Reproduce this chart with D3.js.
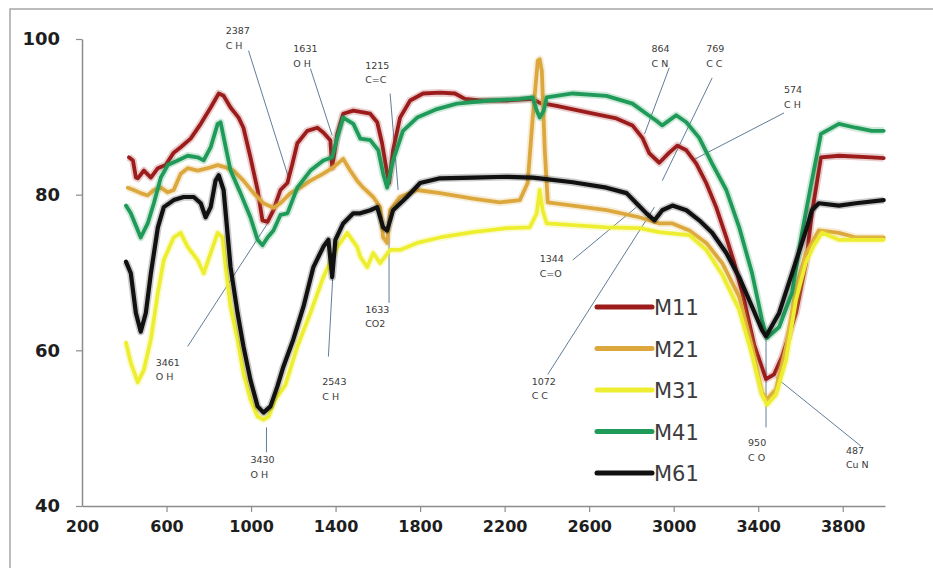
<!DOCTYPE html>
<html>
<head>
<meta charset="utf-8">
<script src="https://cdn.jsdelivr.net/npm/d3@7"></script>
<style>
  body { margin: 0; background: #fff; }
  svg { display: block; }
</style>
</head>
<body>
<svg id="chart" width="933" height="568"></svg>
<script>
// ---- data (wavenumber, transmittance) ----
const seriesNames  = ["M11", "M21", "M31", "M41", "M61"];
const seriesColors = ["#9c1c1c", "#dca83e", "#eeee30", "#1f9a58", "#111111"];

const m11 = [[422,84.8],[441,84.4],[455,82.2],[464,82.1],[493,83.1],[526,82.2],[559,83.4],[596,83.8],
  [634,85.4],[667,86.1],[714,87.2],[762,89.1],[809,91.2],[847,93.0],[870,92.7],[903,91.2],[941,89.9],
  [964,88.6],[997,84.8],[1031,80.6],[1054,76.7],[1078,76.5],[1106,78.0],[1139,80.6],[1172,81.5],
  [1196,84.0],[1219,86.6],[1266,88.2],[1314,88.6],[1342,88.0],[1375,87.0],[1384,83.5],[1408,87.8],
  [1436,90.4],[1484,90.8],[1564,90.4],[1597,89.3],[1620,86.6],[1644,82.7],[1653,81.5],[1672,85.7],
  [1705,89.9],[1753,92.1],[1814,93.0],[1894,93.1],[1965,93.0],[2012,92.3],[2083,92.1],[2210,92.1],
  [2333,92.3],[2366,91.8],[2446,91.4],[2602,90.5],[2729,89.8],[2805,88.9],[2852,87.3],[2885,85.3],
  [2932,84.1],[2979,85.4],[3017,86.3],[3060,85.7],[3107,84.0],[3154,81.5],[3201,78.4],[3249,74.5],
  [3286,71.3],[3333,66.5],[3381,60.7],[3437,56.3],[3475,56.9],[3513,59.2],[3579,64.8],[3626,71.2],
  [3654,77.6],[3697,84.8],[3782,85.0],[3937,84.8],[3994,84.7]];

const m21 = [[417,80.9],[445,80.6],[478,80.2],[511,79.9],[540,80.6],[573,80.9],[606,80.3],[634,80.6],
  [667,82.7],[700,83.4],[747,83.1],[795,83.4],[842,83.8],[880,83.5],[917,83.1],[964,81.8],[1012,80.2],
  [1059,78.9],[1106,78.3],[1139,78.9],[1186,80.2],[1233,80.9],[1281,81.8],[1342,82.7],[1389,83.5],
  [1436,84.6],[1469,83.1],[1502,81.8],[1531,80.9],[1578,79.7],[1611,78.4],[1625,74.5],[1644,73.8],
  [1658,78.0],[1705,79.7],[1786,80.6],[1894,80.2],[2050,79.5],[2177,79.0],[2272,79.3],[2309,81.5],
  [2333,89.9],[2357,97.2],[2366,97.4],[2376,95.9],[2390,85.7],[2404,79.0],[2522,78.6],[2682,78.0],
  [2838,77.1],[2932,76.3],[2994,76.3],[3074,75.4],[3154,73.8],[3230,71.2],[3310,66.9],[3371,60.5],
  [3418,54.6],[3442,53.7],[3484,55.0],[3532,60.5],[3579,68.1],[3626,72.5],[3687,75.4],[3782,75.1],
  [3862,74.5],[3994,74.5]];

const m31 = [[408,61.0],[431,58.4],[464,55.9],[493,57.5],[526,61.4],[559,67.4],[587,71.6],[634,74.5],
  [667,75.1],[700,73.3],[747,71.6],[776,69.9],[809,72.5],[842,75.1],[865,74.5],[880,70.7],[903,65.6],
  [936,61.4],[964,57.1],[997,53.7],[1031,51.5],[1059,51.1],[1083,51.5],[1115,53.7],[1163,55.6],
  [1219,60.5],[1281,64.8],[1342,69.4],[1408,73.3],[1455,75.1],[1502,73.3],[1517,72.0],[1550,70.7],
  [1578,72.5],[1611,71.2],[1658,72.9],[1705,72.9],[1786,73.8],[1894,74.5],[2050,75.2],[2210,75.7],
  [2319,75.8],[2352,77.6],[2366,80.6],[2380,78.0],[2399,76.3],[2522,76.1],[2682,75.8],[2838,75.7],
  [2932,75.2],[3074,74.8],[3154,72.9],[3230,69.7],[3310,65.2],[3371,59.4],[3418,54.3],[3442,53.0],
  [3484,54.3],[3532,58.8],[3579,66.5],[3626,71.3],[3664,73.5],[3702,75.1],[3782,74.2],[3937,74.2],
  [3994,74.2]];

const m41 = [[408,78.6],[431,77.6],[478,74.5],[511,76.3],[540,78.9],[573,82.2],[606,83.8],[653,84.4],
  [700,85.0],[747,84.8],[776,84.4],[809,86.1],[842,89.1],[856,89.3],[880,86.1],[903,83.1],[950,80.2],
  [997,77.1],[1031,74.2],[1054,73.5],[1078,74.5],[1106,75.4],[1139,77.4],[1172,77.6],[1219,80.9],
  [1281,83.1],[1342,84.4],[1384,84.8],[1408,87.3],[1436,89.9],[1484,89.1],[1517,87.2],[1564,87.0],
  [1602,85.7],[1625,82.7],[1644,80.9],[1672,84.4],[1719,88.2],[1786,89.9],[1880,91.0],[1974,91.7],
  [2130,92.1],[2272,92.3],[2333,92.5],[2352,90.8],[2366,89.9],[2385,90.8],[2399,92.5],[2522,93.0],
  [2682,92.7],[2805,91.7],[2871,90.4],[2918,89.5],[2946,88.9],[3012,90.2],[3060,89.3],[3121,87.3],
  [3182,84.0],[3249,80.6],[3310,75.8],[3371,69.9],[3418,63.9],[3442,61.6],[3499,63.0],[3560,67.4],
  [3607,75.1],[3654,81.8],[3697,87.8],[3782,89.1],[3862,88.6],[3937,88.2],[3994,88.2]];

const m61 = [[408,71.4],[431,69.9],[455,64.8],[478,62.4],[502,64.8],[526,69.9],[559,75.8],[587,78.4],
  [634,79.3],[681,79.7],[729,79.7],[762,78.9],[785,77.1],[809,78.4],[832,81.8],[847,82.5],[870,80.6],
  [903,70.7],[936,64.8],[964,60.5],[997,56.2],[1031,52.8],[1059,52.0],[1092,52.8],[1125,55.4],
  [1153,57.9],[1200,61.4],[1248,65.6],[1295,70.7],[1342,73.3],[1366,74.2],[1384,69.4],[1399,74.2],
  [1436,76.3],[1484,77.6],[1517,77.6],[1564,78.0],[1597,78.4],[1625,75.8],[1644,75.4],[1672,78.0],
  [1738,79.7],[1800,81.5],[1894,82.1],[2050,82.2],[2210,82.3],[2333,82.2],[2366,82.1],[2522,81.6],
  [2682,80.9],[2777,80.2],[2824,78.9],[2871,77.6],[2909,76.7],[2946,78.0],[2994,78.6],[3060,78.0],
  [3121,76.7],[3182,75.1],[3249,72.5],[3310,69.4],[3371,65.6],[3418,62.6],[3437,61.8],[3499,64.8],
  [3560,69.9],[3626,75.4],[3654,78.0],[3687,78.9],[3782,78.6],[3862,78.9],[3994,79.3]];

const seriesData = [m11, m21, m31, m41, m61];

const xTicks = [200, 600, 1000, 1400, 1800, 2200, 2600, 3000, 3400, 3800];
const yTicks = [40, 60, 80, 100];

// peak labels: text lines, text anchor, leader line ends (all in data units)
const peakText = [["2387","C H"],["1631","O H"],["1215","C=C"],["864","C N"],["769","C C"],["574","C H"],
  ["3461","O H"],["3430","O H"],["2543","C H"],["1633","CO2"],["1344","C=O"],["1072","C C"],["950","C O"],["487","Cu N"]];
const peakAt = [[880,100.6],[1200,98.3],[1540,96.2],[2895,98.3],[3154,98.3],[3522,93.0],
  [549,58.0],[997,45.5],[1337,55.5],[1540,64.8],[2366,71.3],[2328,55.6],[3352,47.7],[3815,46.7]];
const peakLine = [[[988,98.5],[1182,81.8]],[[1281,96.2],[1384,87.6]],[[1658,93.0],[1696,80.6]],
  [[2979,96.3],[2862,87.8]],[[3182,95.0],[2946,81.8]],[[3522,90.5],[3088,84.4]],
  [[700,60.5],[1078,76.3]],[[1073,50.1],[1073,46.9]],[[1366,59.2],[1389,70.6]],
  [[1653,75.2],[1653,66.1]],[[2522,71.6],[2824,78.4]],[[2404,56.9],[2909,78.4]],
  [[3437,62.6],[3437,50.1]],[[3484,56.5],[3886,47.7]]];

// ---- layout ----
const svg = d3.select("#chart");

svg.append("rect")
  .attr("x", 10).attr("y", 9)
  .attr("width", 940).attr("height", 580)
  .attr("fill", "#fff")
  .attr("stroke", "#a6a6a6")
  .attr("stroke-width", 1.5);

const x = d3.scaleLinear().domain([200, 4000]).range([82, 885]);
const y = d3.scaleLinear().domain([40, 100]).range([506, 39]);

// axes
const xAxis = svg.append("g")
  .attr("transform", `translate(0,${y(40)})`)
  .call(d3.axisBottom(x).tickValues(xTicks).tickFormat(d3.format("d"))
    .tickSize(6).tickSizeOuter(0).tickPadding(9));
const yAxis = svg.append("g")
  .attr("transform", `translate(${x(200)},0)`)
  .call(d3.axisLeft(y).tickValues(yTicks).tickSize(6).tickSizeOuter(0).tickPadding(16));

[xAxis, yAxis].forEach(a => {
  a.select(".domain").attr("stroke", "#8c8c8c").attr("stroke-width", 1.5);
  a.selectAll(".tick line").attr("stroke", "#8c8c8c").attr("stroke-width", 1.2);
  a.selectAll(".tick text")
    .attr("fill", "#1e1e1e")
    .style("font-family", "DejaVu Sans")
    .style("font-weight", "bold");
});
xAxis.selectAll(".tick text").style("font-size", "16px");
yAxis.selectAll(".tick text").style("font-size", "18px");
xAxis.selectAll(".tick").filter(d => d === 200).select("line").remove();

// leader lines + labels
const ann = svg.append("g");
peakLine.forEach(seg => {
  ann.append("line")
    .attr("x1", x(seg[0][0])).attr("y1", y(seg[0][1]))
    .attr("x2", x(seg[1][0])).attr("y2", y(seg[1][1]))
    .attr("stroke", "#4f6d8c")
    .attr("stroke-width", 0.9);
});
peakText.forEach((t, i) => {
  const tx = ann.append("text")
    .attr("x", x(peakAt[i][0]))
    .attr("y", y(peakAt[i][1]))
    .attr("fill", "#3a3a3a")
    .style("font-family", "DejaVu Sans")
    .style("font-size", "9.5px");
  tx.append("tspan").attr("x", x(peakAt[i][0])).text(t[0]);
  tx.append("tspan").attr("x", x(peakAt[i][0])).attr("dy", 14.5).text(t[1]);
});

// spectra
const line = d3.line().x(d => x(d[0])).y(d => y(d[1]));
const plot = svg.append("g");
seriesData.forEach((data, i) => {
  plot.append("path")
    .attr("d", line(data))
    .attr("fill", "none")
    .attr("stroke", seriesColors[i])
    .attr("stroke-opacity", 0.22)
    .attr("stroke-width", 7.5)
    .attr("stroke-linejoin", "round");
  plot.append("path")
    .attr("d", line(data))
    .attr("fill", "none")
    .attr("stroke", seriesColors[i])
    .attr("stroke-width", i === 4 ? 4.2 : 3.8)
    .attr("stroke-linejoin", "round")
    .attr("stroke-linecap", "round");
});

// legend
const legend = svg.append("g").attr("transform", "translate(597,307)");
seriesNames.forEach((name, i) => {
  const row = legend.append("g").attr("transform", `translate(0,${i * 41.5})`);
  row.append("line")
    .attr("x1", 0).attr("x2", 55)
    .attr("stroke", seriesColors[i])
    .attr("stroke-width", 5)
    .attr("stroke-linecap", "round");
  row.append("text")
    .attr("x", 57).attr("y", 8)
    .attr("fill", "#3c3c3c")
    .style("font-family", "DejaVu Sans")
    .style("font-size", "21px")
    .text(name);
});
</script>
</body>
</html>
